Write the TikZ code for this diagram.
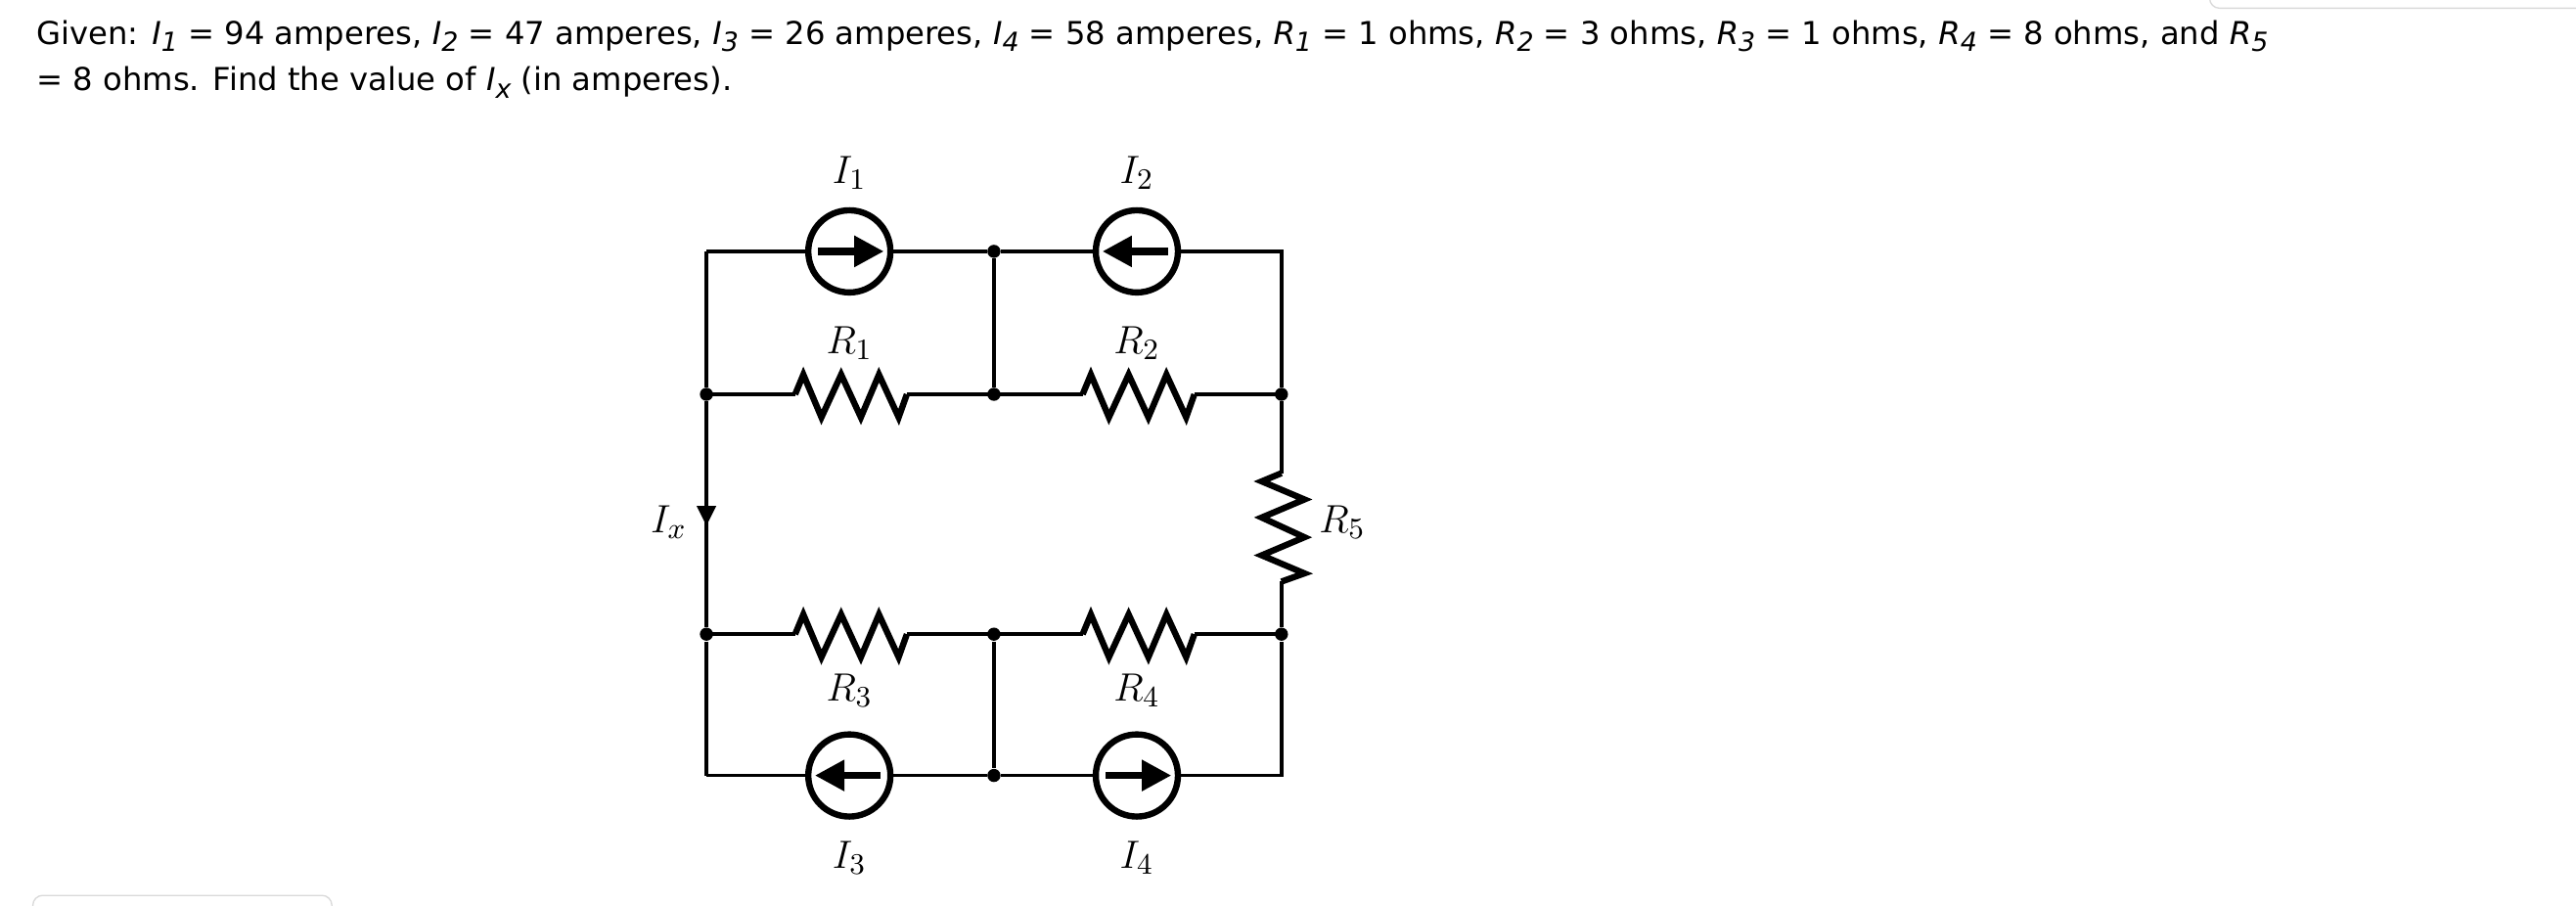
\documentclass[tikz,border=0pt]{standalone}
\usepackage{fontspec}
\setsansfont{DejaVu Sans}
\usetikzlibrary{arrows.meta,calc}
\newcommand{\sub}[2]{\textit{#1}\raisebox{-0.45ex}{\fontsize{8}{8}\selectfont\itshape #2}}
\begin{document}
\begin{tikzpicture}[x=0.5pt,y=-0.5pt,
  wire/.style={line width=1.1pt},
  comp/.style={line width=1.9pt,line join=miter},
  dot/.style={circle,fill,inner sep=0pt,minimum size=4pt},
  lab/.style={font=\fontsize{13}{15}\selectfont},
  src/.style={circle,draw,line width=1.9pt,minimum size=25pt,inner sep=0pt}]
\useasboundingbox (0,0) rectangle (1568,551);
\draw[gray!30,rounded corners=3pt] (1345,-5) -- (1345,5) -- (1575,5);
\draw[gray!30,rounded corners=3pt] (20,556) -- (20,545) -- (202,545) -- (202,556);
\node[anchor=west,font=\sffamily\fontsize{9.6}{12}\selectfont,inner sep=0pt] (t1) at (22,22) {Given: \sub{I}{1} = 94 amperes, \sub{I}{2} = 47 amperes, \sub{I}{3} = 26 amperes, \sub{I}{4} = 58 amperes, \sub{R}{1} = 1 ohms, \sub{R}{2} = 3 ohms, \sub{R}{3} = 1 ohms, \sub{R}{4} = 8 ohms, and \sub{R}{5}};
\node[anchor=west,font=\sffamily\fontsize{9.6}{12}\selectfont,inner sep=0pt] (t2) at (22,50) {= 8 ohms. Find the value of \sub{I}{x} (in amperes).};
% junctions
\coordinate (tl) at (430,153); \coordinate (tr) at (780,153);
\coordinate (bl) at (430,472); \coordinate (br) at (780,472);
\node[dot] (tm) at (605,153) {};
\node[dot] (a1) at (430,240) {}; \node[dot] (a2) at (605,240) {}; \node[dot] (a3) at (780,240) {};
\node[dot] (b1) at (430,386) {}; \node[dot] (b2) at (605,386) {}; \node[dot] (b3) at (780,386) {};
\node[dot] (bm) at (605,472) {};
% sources
\node[src] (s1) at (517,153) {}; \node[src] (s2) at (692,153) {};
\node[src] (s3) at (517,472) {}; \node[src] (s4) at (692,472) {};
\draw[wire] (tl) -- (s1) -- (tm) -- (s2) -- (tr) -- (a3);
\draw[wire] (bl) -- (s3) -- (bm) -- (s4) -- (br) -- (b3);
\draw[wire] (tl) -- (a1) -- (b1) -- (bl);
\draw[wire] (tm) -- (a2); \draw[wire] (bm) -- (b2);
\foreach \s/\d in {s1/1,s2/-1,s3/-1,s4/1}
  \draw[line width=2.2pt,-{Triangle[length=9pt,width=9pt]}] ($(\s)+(-19*\d,0)$) -- ($(\s)+(21*\d,0)$);
% horizontal resistors
\foreach \xa/\xb/\yy/\n in {430/605/240/r1,605/780/240/r2,430/605/386/r3,605/780/386/r4}{
  \pgfmathsetmacro{\c}{\xa+87}
  \draw[wire] (\xa,\yy) -- (\c-33,\yy);
  \draw[comp] (\c-33,\yy) -- (\c-28,\yy-12) -- (\c-17,\yy+14) -- (\c-5,\yy-12) -- (\c+7,\yy+14) -- (\c+18,\yy-12) -- (\c+30,\yy+14) -- (\c+35,\yy);
  \draw[wire] (\c+35,\yy) -- (\xb,\yy);
}
% R5 vertical
\draw[wire] (a3) -- (780,288);
\draw[comp] (780,288) -- (768,293) -- (794,304) -- (768,315) -- (794,327) -- (768,338) -- (794,349) -- (780,354);
\draw[wire] (780,354) -- (b3);
% Ix arrow
\fill (424,308) -- (436,308) -- (430,320) -- cycle;
% labels
\node[lab] (L1) at (517,105) {$I_1$};
\node[lab] (L2) at (692,105) {$I_2$};
\node[lab] (L3) at (517,209) {$R_1$};
\node[lab] (L4) at (692,209) {$R_2$};
\node[lab] (L5) at (517,420) {$R_3$};
\node[lab] (L6) at (692,420) {$R_4$};
\node[lab] (L7) at (517,522) {$I_3$};
\node[lab] (L8) at (692,522) {$I_4$};
\node[lab] (L9) at (817,318) {$R_5$};
\node[lab] (L10) at (407,318) {$I_x$};
\end{tikzpicture}
\end{document}
